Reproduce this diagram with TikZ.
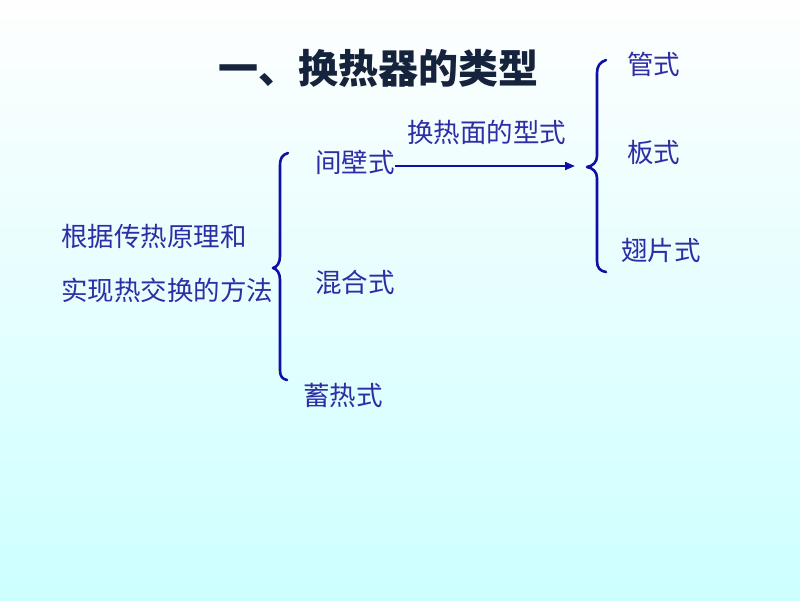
\documentclass[tikz,border=0pt]{standalone}
\usepackage{fontspec}
\newfontfamily\cjk{Noto Sans CJK SC}
\usetikzlibrary{arrows.meta}
\definecolor{txtblue}{RGB}{45,45,165}
\definecolor{bracecol}{RGB}{15,15,165}
\definecolor{titlecol}{RGB}{22,35,60}
\definecolor{bgtop}{RGB}{254,254,254}
\definecolor{bgmid}{RGB}{242,245,247}
\definecolor{bgbot}{RGB}{205,255,255}
\tikzset{
  lbl/.style={anchor=west, inner sep=0pt, text=txtblue, font=\cjk\fontsize{26.5}{30}\selectfont},
  ttl/.style={anchor=west, inner sep=0pt, text=titlecol, font=\cjk\bfseries\fontsize{40}{46}\selectfont},
  bracepath/.style={draw=bracecol, line width=2.6pt, line cap=round, line join=round},
  arr/.style={draw=bracecol, line width=2pt, -{Triangle[length=10pt,width=8pt]}}
}
\begin{document}
\begin{tikzpicture}[x=1pt,y=-1pt]
\useasboundingbox (0,0) rectangle (800,600);
\shade[top color=bgtop, middle color=bgmid, bottom color=bgbot] (0,0) rectangle (800,600);

\node[ttl] (title) at (218,68) {一、换热器的类型};

\node[lbl] (guan) at (627,64) {管式};
\node[lbl] (ban) at (627,152) {板式};
\node[lbl] (chi) at (621,250) {翅片式};
\node[lbl] (mianxing) at (407,132) {换热面的型式};

\node[lbl] (jianbi) at (315,162) {间壁式};
\node[lbl] (hunhe) at (315,282) {混合式};
\node[lbl] (xure) at (303,395) {蓄热式};

\node[lbl] (gen1) at (61,236) {根据传热原理和};
\node[lbl] (gen2) at (61,290) {实现热交换的方法};

\coordinate (arrend) at (575,166);
\draw[arr] (jianbi.east |- arrend) -- (arrend);

% left brace
\draw[bracepath] (288,153) .. controls (282,155) and (280,158) .. (280,166)
  -- (280,256) .. controls (280,263) and (277,267) .. (273,268)
  .. controls (277,269) and (280,273) .. (280,280)
  -- (280,370) .. controls (280,376) and (282,379) .. (287,380);

% right brace
\draw[bracepath] (606,60) .. controls (600,62) and (597,66) .. (597,73)
  -- (597,156) .. controls (597,162) and (593,166) .. (587,167)
  .. controls (593,168) and (597,172) .. (597,178)
  -- (597,261) .. controls (597,268) and (600,271) .. (606,272);
\end{tikzpicture}
\end{document}
